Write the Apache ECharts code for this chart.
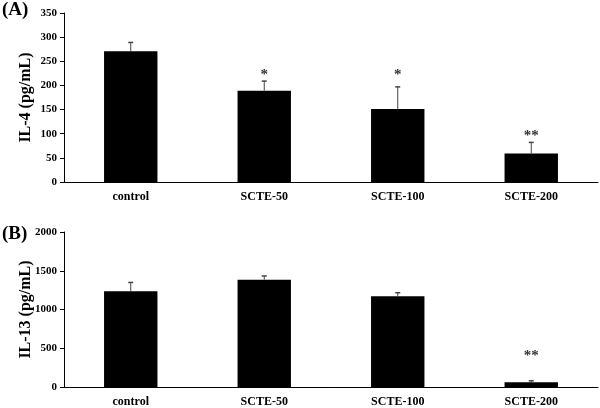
<!DOCTYPE html>
<html>
<head>
<meta charset="utf-8">
<script src="https://cdn.jsdelivr.net/npm/echarts@6/dist/echarts.min.js"></script>
<style>
  html, body { margin: 0; padding: 0; background: #fff; }
  #chart { width: 600px; height: 408px; }
</style>
</head>
<body>
<div id="chart"></div>
<script>
const categories = ['control', 'SCTE-50', 'SCTE-100', 'SCTE-200']

// panel A: IL-4
const il4Mean = [271, 189, 151, 59]
const il4Err = [18, 20, 46, 23]
const il4Sig = ['', '*', '*', '**']
const il4SigAt = [0, 221, 222, 96]

// panel B: IL-13
const il13Mean = [1234, 1385, 1170, 60]
const il13Err = [115, 48, 46, 20]
const il13Sig = ['', '', '', '**']
const il13SigAt = [0, 0, 0, 400]

const font = 'Liberation Serif'

const errorBars = (mean, err, sig, sigAt, idx) => ({
  type: 'custom',
  xAxisIndex: idx,
  yAxisIndex: idx,
  z: 5,
  data: categories.map((c, i) => [i, mean[i], mean[i] + err[i], sigAt[i]]),
  renderItem: (params, api) => {
    const i = api.value(0)
    const base = api.coord([i, api.value(1)])
    const top = api.coord([i, api.value(2)])
    const children = [
      { type: 'line', shape: { x1: base[0], y1: base[1], x2: top[0], y2: top[1] }, style: { stroke: '#444', lineWidth: 1 } },
      { type: 'line', shape: { x1: top[0] - 2.5, y1: top[1], x2: top[0] + 2.5, y2: top[1] }, style: { stroke: '#444', lineWidth: 1.5 } }
    ]
    const label = sig[params.dataIndex]
    if (label) {
      const p = api.coord([i, api.value(3)])
      children.push({
        type: 'text',
        style: { text: label, x: p[0], y: p[1], align: 'center', verticalAlign: 'middle',
          font: 'bold 15px ' + font, fill: '#333' }
      })
    }
    return { type: 'group', children }
  }
})

const xAxis = (idx) => ({
  type: 'category',
  gridIndex: idx,
  data: categories,
  axisLine: { lineStyle: { color: '#000', width: 1 } },
  axisTick: { show: false },
  axisLabel: { color: '#000', fontFamily: font, fontWeight: 'bold', fontSize: 12, margin: 9 }
})

const yAxis = (idx, name, max, interval) => ({
  type: 'value',
  gridIndex: idx,
  min: 0,
  max: max,
  interval: interval,
  name: name,
  nameLocation: 'middle',
  nameGap: 30,
  nameMoveOverlap: false,
  nameTextStyle: { color: '#000', fontFamily: font, fontWeight: 'bold', fontSize: 16 },
  axisLine: { show: true, lineStyle: { color: '#000', width: 1 } },
  axisTick: { show: true, length: 4, lineStyle: { color: '#000' } },
  axisLabel: { color: '#000', fontFamily: font, fontWeight: 'bold', fontSize: 11, margin: 7,
    formatter: (v) => String(v) },
  splitLine: { show: false }
})

const chart = echarts.init(document.getElementById('chart'))
chart.setOption({
  animation: false,
  backgroundColor: '#fff',
  title: [
    { text: '(A)', left: 0, top: -1, textStyle: { fontFamily: font, fontWeight: 'bold', fontSize: 19, color: '#000' }, padding: 2 },
    { text: '(B)', left: 0, top: 223, textStyle: { fontFamily: font, fontWeight: 'bold', fontSize: 19, color: '#000' }, padding: 2 }
  ],
  grid: [
    { left: 64, right: 2, top: 13, height: 169 },
    { left: 64, right: 2, top: 232, height: 157 }
  ],
  xAxis: [xAxis(0), xAxis(1)],
  yAxis: [yAxis(0, 'IL-4 (pg/mL)', 350, 50), yAxis(1, 'IL-13 (pg/mL)', 2000, 500)],
  series: [
    { type: 'bar', xAxisIndex: 0, yAxisIndex: 0, data: il4Mean, barWidth: '40%', itemStyle: { color: '#000' } },
    errorBars(il4Mean, il4Err, il4Sig, il4SigAt, 0),
    { type: 'bar', xAxisIndex: 1, yAxisIndex: 1, data: il13Mean, barWidth: '40%', itemStyle: { color: '#000' } },
    errorBars(il13Mean, il13Err, il13Sig, il13SigAt, 1)
  ]
})
</script>
</body>
</html>
